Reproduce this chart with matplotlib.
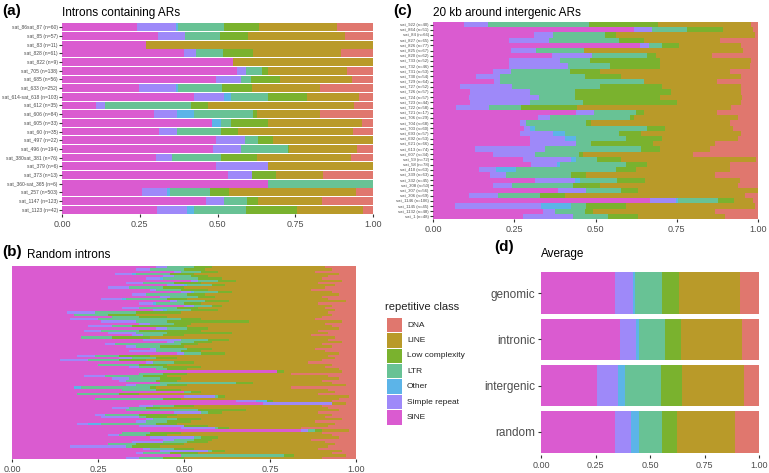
import numpy as np
import matplotlib
matplotlib.use("Agg")
import matplotlib.pyplot as plt
from matplotlib.patches import Rectangle

plt.rcParams["font.family"] = ["Liberation Sans", "DejaVu Sans"]

# ── classes & colours ─────────────────────────────────────────
legend_classes = ["DNA", "LINE", "Low complexity", "LTR", "Other", "Simple repeat", "SINE"]
stack_classes = ["SINE", "Simple repeat", "Other", "LTR", "Low complexity", "LINE", "DNA"]
class_colors = {
    "DNA": "#E0776E", "LINE": "#B99A29", "Low complexity": "#7AB22E",
    "LTR": "#68C295", "Other": "#5CB4E8", "Simple repeat": "#9E89F9",
    "SINE": "#DA5BD0",
}

# rows = cumulative right edge of SINE, Simple repeat, Other, LTR, Low complexity, LINE
# (DNA fills the rest up to 1)

# ── (a) introns containing ARs ────────────────────────────────
a_labels = ["sat_86sat_87 (n=60)", "sat_85 (n=57)", "sat_83 (n=11)", "sat_828 (n=61)",
            "sat_822 (n=9)", "sat_705 (n=138)", "sat_685 (n=56)", "sat_633 (n=252)",
            "sat_614-sat_618 (n=103)", "sat_612 (n=35)", "sat_606 (n=84)", "sat_605 (n=33)",
            "sat_60 (n=35)", "sat_497 (n=22)", "sat_496 (n=194)", "sat_380sat_381 (n=76)",
            "sat_379 (n=6)", "sat_373 (n=13)", "sat_360-sat_365 (n=6)", "sat_257 (n=503)",
            "sat_1147 (n=123)", "sat_1123 (n=42)"]
a_edges = [
    (0.242, 0.367, 0.372, 0.521, 0.634, 0.885),
    (0.310, 0.397, 0.397, 0.508, 0.597, 0.910),
    (0.269, 0.269, 0.269, 0.269, 0.269, 1.000),
    (0.392, 0.431, 0.431, 0.517, 0.613, 0.896),
    (0.551, 0.551, 0.551, 0.551, 0.551, 1.000),
    (0.562, 0.591, 0.591, 0.642, 0.663, 0.915),
    (0.495, 0.575, 0.575, 0.608, 0.701, 0.931),
    (0.249, 0.367, 0.372, 0.513, 0.611, 0.830),
    (0.425, 0.520, 0.545, 0.663, 0.787, 0.956),
    (0.108, 0.138, 0.138, 0.414, 0.468, 0.939),
    (0.296, 0.369, 0.425, 0.615, 0.626, 0.830),
    (0.481, 0.481, 0.510, 0.542, 0.663, 0.964),
    (0.313, 0.371, 0.371, 0.511, 0.567, 0.937),
    (0.495, 0.589, 0.589, 0.631, 0.679, 1.000),
    (0.487, 0.576, 0.576, 0.726, 0.731, 0.948),
    (0.301, 0.353, 0.353, 0.510, 0.628, 0.928),
    (0.495, 0.663, 0.663, 0.663, 0.663, 1.000),
    (0.534, 0.611, 0.611, 0.611, 0.687, 0.840),
    (0.663, 0.663, 0.663, 1.000, 1.000, 1.000),
    (0.258, 0.339, 0.346, 0.476, 0.538, 0.945),
    (0.463, 0.522, 0.522, 0.596, 0.629, 0.835),
    (0.307, 0.403, 0.425, 0.591, 0.757, 0.969),
]

# ── (c) 20 kb around intergenic ARs ───────────────────────────
c_labels = ["sat_922 (n=40)", "sat_864 (n=51)", "sat_84 (n=66)", "sat_827 (n=65)",
            "sat_826 (n=77)", "sat_825 (n=67)", "sat_820 (n=62)", "sat_733 (n=52)",
            "sat_732 (n=46)", "sat_731 (n=53)", "sat_730 (n=54)", "sat_729 (n=64)",
            "sat_727 (n=52)", "sat_726 (n=57)", "sat_724 (n=57)", "sat_723 (n=44)",
            "sat_722 (n=58)", "sat_721 (n=17)", "sat_706 (n=29)", "sat_704 (n=68)",
            "sat_703 (n=60)", "sat_693 (n=57)", "sat_692 (n=53)", "sat_621 (n=66)",
            "sat_613 (n=74)", "sat_607 (n=34)", "sat_59 (n=72)", "sat_58 (n=78)",
            "sat_410 (n=63)", "sat_339 (n=63)", "sat_332 (n=45)", "sat_308 (n=50)",
            "sat_307 (n=56)", "sat_306 (n=69)", "sat_1146 (n=106)", "sat_1145 (n=45)",
            "sat_1132 (n=48)", "sat_1 (n=48)"]
c_edges = [
    (0.095, 0.169, 0.169, 0.479, 0.692, 0.979),
    (0.617, 0.674, 0.674, 0.783, 0.892, 0.985),
    (0.311, 0.369, 0.369, 0.530, 0.562, 0.990),
    (0.234, 0.357, 0.357, 0.572, 0.648, 0.882),
    (0.638, 0.665, 0.665, 0.705, 0.757, 0.949),
    (0.241, 0.316, 0.316, 0.464, 0.464, 0.954),
    (0.367, 0.489, 0.489, 0.659, 0.685, 0.858),
    (0.234, 0.390, 0.390, 0.484, 0.697, 0.979),
    (0.234, 0.415, 0.415, 0.546, 0.697, 0.974),
    (0.185, 0.241, 0.241, 0.421, 0.513, 0.913),
    (0.133, 0.205, 0.205, 0.467, 0.577, 0.949),
    (0.187, 0.205, 0.205, 0.649, 0.649, 0.875),
    (0.082, 0.244, 0.244, 0.513, 0.705, 0.949),
    (0.113, 0.297, 0.297, 0.436, 0.733, 0.949),
    (0.111, 0.326, 0.326, 0.436, 0.700, 0.950),
    (0.113, 0.297, 0.297, 0.460, 0.752, 0.949),
    (0.070, 0.172, 0.172, 0.272, 0.443, 0.918),
    (0.439, 0.495, 0.495, 0.624, 0.649, 0.875),
    (0.323, 0.361, 0.361, 0.605, 0.617, 0.938),
    (0.267, 0.287, 0.287, 0.472, 0.487, 0.913),
    (0.279, 0.297, 0.313, 0.658, 0.715, 0.923),
    (0.267, 0.369, 0.405, 0.571, 0.641, 0.949),
    (0.297, 0.405, 0.441, 0.595, 0.705, 0.938),
    (0.297, 0.441, 0.441, 0.487, 0.677, 0.869),
    (0.128, 0.344, 0.344, 0.641, 0.697, 0.851),
    (0.185, 0.313, 0.313, 0.449, 0.462, 0.800),
    (0.277, 0.426, 0.441, 0.506, 0.579, 0.995),
    (0.303, 0.382, 0.390, 0.593, 0.659, 0.913),
    (0.142, 0.193, 0.256, 0.564, 0.626, 0.913),
    (0.174, 0.224, 0.224, 0.426, 0.472, 0.867),
    (0.313, 0.436, 0.451, 0.566, 0.651, 0.944),
    (0.185, 0.244, 0.244, 0.431, 0.513, 0.938),
    (0.385, 0.472, 0.472, 0.579, 0.631, 1.000),
    (0.111, 0.200, 0.200, 0.328, 0.405, 0.959),
    (0.667, 0.747, 0.754, 0.877, 0.925, 0.985),
    (0.067, 0.333, 0.426, 0.472, 0.595, 0.990),
    (0.338, 0.374, 0.374, 0.467, 0.492, 0.867),
    (0.277, 0.431, 0.431, 0.538, 0.631, 0.897),
]

# ── (b) random introns ────────────────────────────────────────
b_edges = [
    (0.42, 0.45, 0.45, 0.53, 0.58, 0.91), (0.36, 0.40, 0.40, 0.50, 0.56, 0.93),
    (0.47, 0.49, 0.49, 0.55, 0.60, 0.88), (0.30, 0.35, 0.36, 0.46, 0.53, 0.95),
    (0.44, 0.47, 0.47, 0.52, 0.57, 0.92), (0.39, 0.43, 0.44, 0.54, 0.61, 0.90),
    (0.52, 0.54, 0.54, 0.60, 0.65, 0.96), (0.33, 0.38, 0.38, 0.47, 0.55, 0.89),
    (0.45, 0.50, 0.51, 0.58, 0.62, 0.94), (0.28, 0.34, 0.34, 0.44, 0.50, 0.91),
    (0.40, 0.42, 0.42, 0.49, 0.57, 0.87), (0.49, 0.52, 0.53, 0.60, 0.64, 0.93),
    (0.35, 0.39, 0.39, 0.51, 0.56, 0.95), (0.43, 0.46, 0.46, 0.54, 0.59, 0.90),
    (0.26, 0.32, 0.33, 0.45, 0.51, 0.92), (0.46, 0.48, 0.48, 0.56, 0.63, 0.97),
    (0.37, 0.41, 0.42, 0.50, 0.55, 0.89), (0.50, 0.53, 0.53, 0.58, 0.61, 0.93),
    (0.32, 0.37, 0.37, 0.48, 0.54, 0.91), (0.41, 0.44, 0.45, 0.52, 0.60, 0.94),
    (0.16, 0.24, 0.24, 0.36, 0.49, 0.92), (0.18, 0.18, 0.18, 0.28, 0.36, 0.93),
    (0.29, 0.29, 0.29, 0.37, 0.45, 0.90), (0.17, 0.25, 0.25, 0.49, 0.55, 0.88),
    (0.26, 0.36, 0.36, 0.45, 0.69, 0.96), (0.37, 0.40, 0.40, 0.47, 0.52, 0.91),
    (0.22, 0.29, 0.29, 0.35, 0.51, 0.93), (0.42, 0.45, 0.45, 0.51, 0.57, 0.95),
    (0.21, 0.26, 0.26, 0.37, 0.55, 0.89), (0.28, 0.36, 0.36, 0.45, 0.64, 0.92),
    (0.35, 0.38, 0.38, 0.44, 0.50, 0.87), (0.20, 0.20, 0.20, 0.29, 0.40, 0.94),
    (0.38, 0.49, 0.49, 0.57, 0.63, 0.92), (0.45, 0.47, 0.47, 0.53, 0.58, 0.96),
    (0.27, 0.30, 0.30, 0.49, 0.54, 0.90), (0.33, 0.36, 0.36, 0.43, 0.50, 0.93),
    (0.40, 0.42, 0.42, 0.51, 0.58, 0.88), (0.34, 0.42, 0.42, 0.49, 0.55, 0.91),
    (0.48, 0.50, 0.50, 0.55, 0.62, 0.95), (0.19, 0.24, 0.24, 0.31, 0.40, 0.92),
    (0.31, 0.35, 0.35, 0.42, 0.48, 0.94), (0.14, 0.22, 0.22, 0.31, 0.39, 0.90),
    (0.39, 0.41, 0.41, 0.47, 0.53, 0.86), (0.25, 0.25, 0.25, 0.37, 0.45, 0.93),
    (0.34, 0.37, 0.37, 0.44, 0.55, 0.91), (0.42, 0.42, 0.42, 0.45, 0.51, 0.95),
    (0.77, 0.77, 0.77, 0.77, 0.79, 0.96), (0.37, 0.37, 0.37, 0.44, 0.51, 0.81),
    (0.21, 0.27, 0.27, 0.38, 0.45, 0.92), (0.29, 0.34, 0.34, 0.43, 0.49, 0.95),
    (0.31, 0.33, 0.33, 0.42, 0.48, 0.90), (0.43, 0.43, 0.43, 0.65, 0.70, 0.93),
    (0.33, 0.36, 0.36, 0.45, 0.51, 0.97), (0.18, 0.18, 0.20, 0.40, 0.42, 0.81),
    (0.32, 0.32, 0.32, 0.42, 0.49, 0.92), (0.50, 0.50, 0.50, 0.52, 0.55, 0.94),
    (0.19, 0.19, 0.19, 0.31, 0.37, 0.89), (0.50, 0.59, 0.59, 0.60, 0.62, 0.98),
    (0.24, 0.24, 0.24, 0.44, 0.49, 0.95), (0.65, 0.71, 0.74, 0.74, 0.76, 0.93),
    (0.73, 0.93, 0.93, 0.93, 0.93, 0.97), (0.37, 0.41, 0.41, 0.47, 0.53, 0.90),
    (0.29, 0.34, 0.34, 0.39, 0.43, 0.92), (0.33, 0.33, 0.33, 0.54, 0.68, 0.95),
    (0.47, 0.55, 0.55, 0.57, 0.61, 0.89), (0.24, 0.27, 0.27, 0.37, 0.48, 0.93),
    (0.26, 0.37, 0.37, 0.39, 0.45, 0.91), (0.39, 0.41, 0.41, 0.48, 0.55, 0.96),
    (0.36, 0.39, 0.39, 0.45, 0.52, 0.88), (0.19, 0.22, 0.26, 0.42, 0.48, 0.94),
    (0.37, 0.50, 0.50, 0.50, 0.57, 0.92), (0.49, 0.59, 0.59, 0.60, 0.63, 0.84),
    (0.84, 0.86, 0.86, 0.88, 0.90, 0.98), (0.32, 0.32, 0.32, 0.40, 0.49, 0.90),
    (0.28, 0.31, 0.31, 0.39, 0.45, 0.93), (0.40, 0.53, 0.53, 0.55, 0.60, 0.95),
    (0.44, 0.47, 0.47, 0.53, 0.58, 0.87), (0.35, 0.44, 0.44, 0.51, 0.57, 0.91),
    (0.28, 0.28, 0.28, 0.36, 0.50, 0.94), (0.17, 0.33, 0.33, 0.35, 0.43, 0.92),
    (0.38, 0.40, 0.40, 0.47, 0.53, 0.89), (0.43, 0.57, 0.57, 0.58, 0.62, 0.96),
    (0.36, 0.38, 0.38, 0.46, 0.54, 0.93), (0.49, 0.49, 0.49, 0.79, 0.82, 0.97),
    (0.33, 0.37, 0.37, 0.44, 0.50, 0.90),
]

# ── (d) average ───────────────────────────────────────────────
d_labels = ["genomic", "intronic", "intergenic", "random"]
d_edges = [
    (0.339, 0.423, 0.430, 0.557, 0.631, 0.911),
    (0.362, 0.434, 0.450, 0.571, 0.644, 0.922),
    (0.256, 0.354, 0.385, 0.550, 0.649, 0.930),
    (0.339, 0.415, 0.450, 0.553, 0.626, 0.889),
]

W, H = 769, 473
fig = plt.figure(figsize=(W / 100, H / 100), dpi=100)


def px_axes(x0, y0, x1, y1):
    # pixel box (top-left origin) -> figure axes
    return fig.add_axes([x0 / W, 1 - y1 / H, (x1 - x0) / W, (y1 - y0) / H])


def stacked(ax, edges, height, labels=None, label_size=4):
    e = np.asarray(edges, dtype=float)
    n = len(e)
    full = np.column_stack([np.zeros(n), e, np.ones(n)])
    widths = np.diff(full, axis=1)
    y = np.arange(n)[::-1]
    for k, cls in enumerate(stack_classes):
        ax.barh(y, widths[:, k], left=full[:, k], height=height,
                color=class_colors[cls], linewidth=0)
    ax.set_xlim(0, 1)
    ax.set_ylim(-0.5, n - 0.5)
    ax.set_xticks([0, 0.25, 0.5, 0.75, 1.0])
    ax.set_xticklabels(["0.00", "0.25", "0.50", "0.75", "1.00"])
    ax.tick_params(axis="x", labelsize=6.5, length=2.5, width=0.8, color="#333333",
                   labelcolor="#4D4D4D", pad=1.5)
    if labels is None:
        ax.set_yticks([])
    else:
        ax.set_yticks(y)
        ax.set_yticklabels(labels)
        ax.tick_params(axis="y", labelsize=label_size, length=2.0, width=0.8,
                       color="#333333", labelcolor="#4D4D4D", pad=1)
    for s in ax.spines.values():
        s.set_visible(False)


ax_a = px_axes(62, 23, 373, 214)
stacked(ax_a, a_edges, 0.9, a_labels, label_size=3.6)

ax_c = px_axes(433, 22, 758, 219)
stacked(ax_c, c_edges, 1.0, c_labels, label_size=3.1)

ax_b = px_axes(12, 266, 356, 459)
stacked(ax_b, b_edges, 1.0)

ax_d = px_axes(541, 270, 759, 455)
stacked(ax_d, d_edges, 0.9, d_labels, label_size=8.5)
ax_d.tick_params(axis="y", pad=1.5, length=2.5)

# panel tags and titles
fig.text(2 / W, 1 - 11 / H, "(a)", fontsize=11, fontweight="bold", va="center")
fig.text(62 / W, 1 - 13 / H, "Introns containing ARs", fontsize=8.5, va="center")
fig.text(393 / W, 1 - 11 / H, "(c)", fontsize=11, fontweight="bold", va="center")
fig.text(433 / W, 1 - 13 / H, "20 kb around intergenic ARs", fontsize=8.5, va="center")
fig.text(2 / W, 1 - 252 / H, "(b)", fontsize=11, fontweight="bold", va="center")
fig.text(27 / W, 1 - 255 / H, "Random introns", fontsize=8.5, va="center")
fig.text(494 / W, 1 - 247 / H, "(d)", fontsize=11, fontweight="bold", va="center")
fig.text(541 / W, 1 - 254 / H, "Average", fontsize=8.5, va="center")

# legend
fig.text(385 / W, 1 - 307 / H, "repetitive class", fontsize=8, va="center", color="#222222")
for i, cls in enumerate(legend_classes):
    yc = 325 + 15.4 * i
    fig.add_artist(Rectangle((387 / W, 1 - (yc + 7.2) / H), 15 / W, 14.4 / H,
                             transform=fig.transFigure, color=class_colors[cls], lw=0))
    fig.text(407 / W, 1 - yc / H, cls, fontsize=6, va="center", color="#222222")

fig.savefig("out.png", dpi=100)
